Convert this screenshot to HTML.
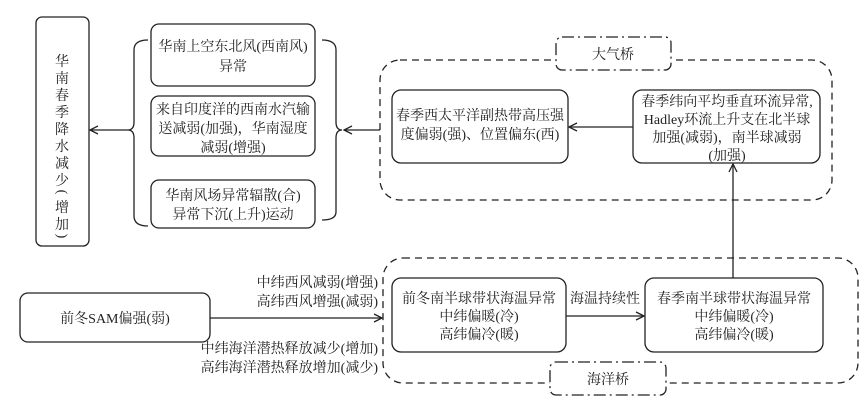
<!DOCTYPE html>
<html><head><meta charset="utf-8"><style>
body{margin:0;background:#fff;}
svg{display:block;font-family:"Liberation Serif","Noto Serif CJK SC","Noto Sans CJK SC",serif;}
text{font-size:14px;fill:#222;}
</style></head><body>
<svg width="868" height="406" viewBox="0 0 868 406" xmlns="http://www.w3.org/2000/svg">
<defs><marker id="a" markerWidth="10" markerHeight="10" refX="9" refY="5" orient="auto" markerUnits="userSpaceOnUse"><path d="M1,1 L9,5 L1,9" fill="none" stroke="#222" stroke-width="1.3"/></marker></defs>
<g fill="none" stroke="#222" stroke-width="1.3">
<rect x="36" y="17" width="53" height="229" rx="6"/>
<rect x="151" y="24" width="164" height="62" rx="8"/>
<rect x="151" y="96" width="164" height="60" rx="8"/>
<rect x="151" y="180" width="164" height="48" rx="8"/>
<path d="M148,40 Q134,40 134,50 L134,122 Q134,130 128,130 Q134,130 134,138 L134,216 Q134,226 148,226"/>
<path d="M322,40 Q336,40 336,50 L336,122 Q336,130 342,130 Q336,130 336,138 L336,212 Q336,220 322,220"/>
<line x1="128" y1="130" x2="90" y2="130" marker-end="url(#a)"/>
<line x1="380" y1="130" x2="344" y2="130" marker-end="url(#a)"/>
<rect x="380" y="60" width="452" height="140" rx="20" stroke-dasharray="7,5"/>
<rect x="392" y="90" width="176" height="73" rx="9"/>
<rect x="633" y="90" width="187" height="73" rx="9"/>
<line x1="633" y1="127" x2="569" y2="127" marker-end="url(#a)"/>
<rect x="20" y="293" width="190" height="49" rx="8"/>
<line x1="210" y1="318" x2="382" y2="318" marker-end="url(#a)"/>
<rect x="383" y="258" width="475" height="125" rx="20" stroke-dasharray="7,5"/>
<rect x="392" y="278" width="174" height="74" rx="9"/>
<rect x="645" y="278" width="178" height="74" rx="9"/>
<line x1="566" y1="316" x2="644" y2="316" marker-end="url(#a)"/>
<line x1="733" y1="278" x2="733" y2="164" marker-end="url(#a)"/>
</g>
<rect x="556" y="37" width="115" height="33" rx="6" fill="#fff" stroke="#222" stroke-width="1.3" stroke-dasharray="12,4,2,4"/>
<rect x="550" y="362" width="116" height="33" rx="6" fill="#fff" stroke="#222" stroke-width="1.3" stroke-dasharray="12,4,2,4"/>
<text x="613" y="59" text-anchor="middle">大气桥</text>
<text x="608" y="384" text-anchor="middle">海洋桥</text>
<g text-anchor="middle">
<text x="62" y="66">华</text><text x="62" y="83">南</text><text x="62" y="100">春</text><text x="62" y="117">季</text><text x="62" y="134">降</text><text x="62" y="151">水</text><text x="62" y="168">减</text><text x="62" y="185">少</text>
<text x="62" y="196" transform="rotate(90 62 192)">(</text>
<text x="62" y="212">增</text><text x="62" y="229">加</text>
<text x="62" y="240" transform="rotate(90 62 236)">)</text>
<text x="233" y="51">华南上空东北风(西南风)</text>
<text x="233" y="71">异常</text>
<text x="233" y="114">来自印度洋的西南水汽输</text>
<text x="233" y="133">送减弱(加强)，华南湿度</text>
<text x="233" y="152">减弱(增强)</text>
<text x="233" y="200">华南风场异常辐散(合)</text>
<text x="233" y="219">异常下沉(上升)运动</text>
<text x="480" y="120">春季西太平洋副热带高压强</text>
<text x="480" y="139">度偏弱(强)、位置偏东(西)</text>
<text x="727" y="106">春季纬向平均垂直环流异常,</text>
<text x="727" y="124">Hadley环流上升支在北半球</text>
<text x="727" y="142">加强(减弱)，南半球减弱</text>
<text x="727" y="160">(加强)</text>
<text x="115" y="323">前冬SAM偏强(弱)</text>
<text x="479" y="303">前冬南半球带状海温异常</text>
<text x="479" y="321">中纬偏暖(冷)</text>
<text x="479" y="339">高纬偏冷(暖)</text>
<text x="605" y="303">海温持续性</text>
<text x="734" y="303">春季南半球带状海温异常</text>
<text x="734" y="321">中纬偏暖(冷)</text>
<text x="734" y="339">高纬偏冷(暖)</text>
</g>
<g text-anchor="end">
<text x="378" y="287">中纬西风减弱(增强)</text>
<text x="378" y="306">高纬西风增强(减弱)</text>
<text x="378" y="353">中纬海洋潜热释放减少(增加)</text>
<text x="378" y="372">高纬海洋潜热释放增加(减少)</text>
</g>
</svg>
</body></html>
